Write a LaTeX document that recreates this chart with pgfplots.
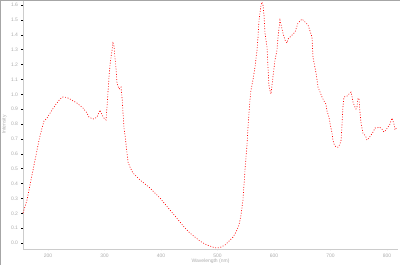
\documentclass[border=0pt]{standalone}
\usepackage{fontspec}
\setmainfont{Liberation Sans}
\usepackage{pgfplots}
\pgfplotsset{compat=1.18}
\begin{document}
\begin{tikzpicture}
\begin{axis}[
  scale only axis, width=375pt, height=249pt,
  xmin=155.75, xmax=819.5, ymin=-0.04, ymax=1.634,
  axis x line*=bottom, axis y line*=left,
  axis line style={gray!40, line width=0.6pt},
  xtick={200,300,400,500,600,700,800},
  ytick={0,0.1,0.2,0.3,0.4,0.5,0.6,0.7,0.8,0.9,1.0,1.1,1.2,1.3,1.4,1.5,1.6},
  yticklabel style={/pgf/number format/fixed, /pgf/number format/fixed zerofill, /pgf/number format/precision=1},
  /pgf/number format/assume math mode=true,
  tick label style={font=\tiny, text=gray!65},
  tick align=outside, major tick length=1.5pt,
  tick style={black, line width=0.5pt},
  xlabel={Wavelength (nm)}, ylabel={Intensity},
  label style={font=\tiny, text=gray!65},
  xlabel style={at={(axis description cs:0.5,-0.048)}, anchor=center},
  ylabel style={at={(axis description cs:-0.05,0.5)}, anchor=center, rotate=0},
  clip=false,
]
\addplot[red, line width=0.65pt, dash pattern=on 0.9pt off 1.7pt] coordinates {
(155.8,0.202) (162.8,0.289) (168.1,0.390) (173.5,0.491) (178.8,0.592) (184.1,0.692)
(189.4,0.773) (192.9,0.820) (198.2,0.840) (207.1,0.894) (214.2,0.934) (221.2,0.968)
(226.5,0.982) (233.6,0.978) (238.9,0.968) (251.3,0.941) (261.9,0.908) (269.0,0.874)
(272.6,0.847) (276.1,0.840) (281.4,0.834) (286.7,0.847) (292.0,0.894) (295.6,0.861)
(299.1,0.840) (302.7,0.827) (304.4,0.914) (306.2,1.015) (308.0,1.116) (309.7,1.197)
(313.3,1.297) (315.0,1.345) (316.8,1.324) (318.6,1.244) (320.4,1.176) (322.1,1.076)
(325.7,1.035) (329.2,1.049) (331.0,0.982) (332.7,0.881) (334.5,0.773) (336.3,0.726)
(339.8,0.605) (341.6,0.545) (345.1,0.511) (350.4,0.471) (357.5,0.444) (362.8,0.424)
(371.7,0.397) (380.5,0.370) (389.4,0.336) (398.2,0.303) (407.1,0.262) (415.9,0.222)
(424.8,0.182) (433.6,0.141) (442.5,0.101) (451.3,0.067) (460.2,0.040) (469.0,0.013)
(477.9,-0.007) (486.7,-0.020) (493.8,-0.030) (499.1,-0.034) (506.2,-0.027) (513.3,-0.013)
(520.4,0.013) (527.4,0.040) (532.8,0.074) (538.1,0.121) (541.6,0.188) (545.1,0.289)
(548.7,0.491) (552.2,0.659) (554.0,0.780) (555.8,0.874) (557.5,0.961) (559.3,1.029)
(562.8,1.096) (566.4,1.183) (569.9,1.297) (571.7,1.385) (573.5,1.499) (577.0,1.600)
(578.8,1.620) (580.5,1.600) (582.3,1.533) (584.1,1.412) (587.6,1.318) (589.4,1.183)
(591.2,1.049) (594.7,1.002) (598.2,1.116) (601.8,1.230) (605.3,1.297) (607.1,1.385)
(610.6,1.499) (615.9,1.412) (619.5,1.365) (623.0,1.345) (624.8,1.371) (631.9,1.398)
(637.2,1.418) (642.5,1.479) (649.6,1.506) (654.9,1.486) (660.2,1.466) (667.3,1.385)
(669.0,1.250) (674.4,1.143) (677.9,1.049) (685.0,0.982) (688.5,0.955) (692.0,0.934)
(693.8,0.887) (697.3,0.847) (699.1,0.807) (702.7,0.739) (704.4,0.692) (706.2,0.666)
(709.7,0.645) (713.3,0.645) (715.0,0.652) (718.6,0.686) (720.4,0.793) (722.1,0.921)
(723.9,0.982) (729.2,0.988) (732.7,1.002) (736.3,1.015) (738.1,0.988) (739.8,0.948)
(743.4,0.914) (745.1,0.901) (746.9,0.914) (748.7,0.975) (750.4,0.968) (752.2,0.881)
(754.0,0.807) (757.5,0.739) (759.3,0.733) (762.8,0.713) (764.6,0.692) (768.1,0.706)
(771.7,0.726) (775.2,0.746) (778.8,0.773) (782.3,0.773) (785.8,0.780) (789.4,0.773)
(791.2,0.766) (794.7,0.746) (798.2,0.760) (801.8,0.780) (805.3,0.800) (808.8,0.840)
(810.6,0.820) (812.4,0.800) (814.2,0.760) (817.7,0.780)
};
\end{axis}
\pgfresetboundingbox
\useasboundingbox ([xshift=-23pt,yshift=-16pt]current axis.south west) rectangle ([xshift=2pt]current axis.north east);
\draw[gray!70, line width=1.2pt] ([xshift=-22.4pt,yshift=-16pt]current axis.south west) -- ([xshift=-22.4pt,yshift=-0.6pt]current axis.north west) -- ([xshift=2pt,yshift=-0.6pt]current axis.north east);
\end{tikzpicture}
\end{document}
